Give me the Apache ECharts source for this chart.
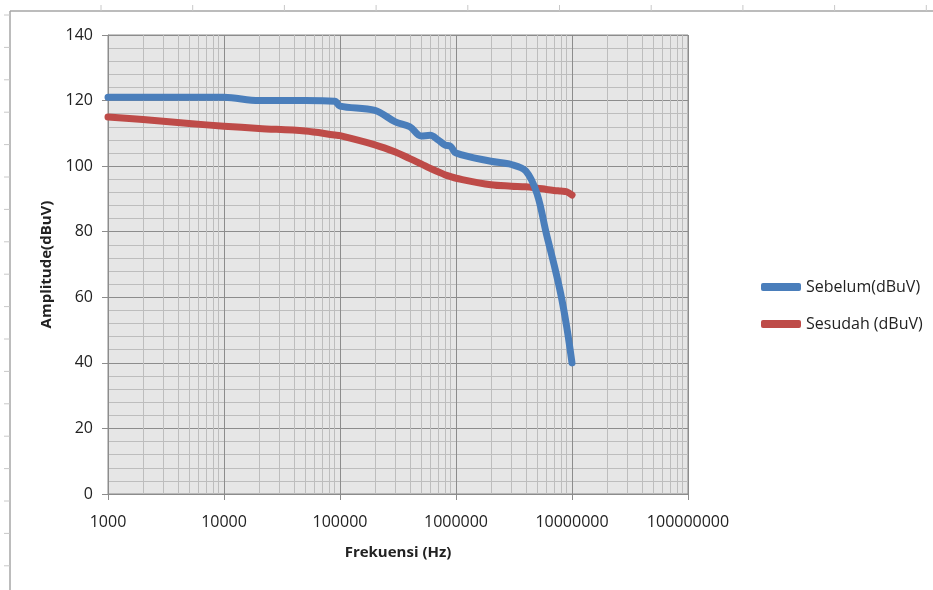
<!DOCTYPE html>
<html>
<head>
<meta charset="utf-8">
<script src="https://cdn.jsdelivr.net/npm/echarts@6/dist/echarts.min.js"></script>
<style>
  html, body { margin: 0; padding: 0; background: #fff; }
  #chart { width: 933px; height: 590px; }
</style>
</head>
<body>
<div id="chart"></div>
<script>
// frekuensi (Hz) tiap titik ukur
const freqs = [1000, 2000, 5000, 10000, 20000, 50000, 90000, 100000, 200000, 300000,
  400000, 500000, 600000, 700000, 800000, 900000, 1000000, 2000000, 3000000, 4000000,
  5000000, 6000000, 7000000, 8000000, 9000000, 10000000];
// amplitudo (dBuV)
const sebelum = [121, 121, 121, 121, 120, 120, 119.8, 118.3, 117, 113.5,
  112, 109.2, 109.4, 108, 106.5, 106, 104, 101.5, 100.5, 98.5,
  91.5, 79.5, 70, 61, 51, 40];
const sesudah = [115, 114.2, 113, 112.2, 111.5, 110.7, 109.5, 109.3, 106.5, 104.3,
  102.3, 100.7, 99.3, 98.3, 97.4, 96.8, 96.3, 94.3, 93.9, 93.7,
  93.3, 92.9, 92.6, 92.4, 92.2, 91.2];
const seriesNames = ['Sebelum(dBuV)', 'Sesudah (dBuV)'];
const decades = [1000, 10000, 100000, 1000000, 10000000];
const minorSteps = [2, 3, 4, 5, 6, 7, 8, 9];

const font = '"Open Sans", "Liberation Sans", sans-serif';

// garis bantu log (2..9 tiap dekade)
const minorLines = [];
decades.forEach(d => {
  minorSteps.forEach(m => minorLines.push({ xAxis: d * m }));
});

const pair = arr => freqs.map((f, i) => [f, arr[i]]);

// bingkai lembar kerja (garis atas & kiri)
const frame = [
  { type: 'line', shape: { x1: 10, y1: 11, x2: 933, y2: 11 }, style: { stroke: '#a6a6a6', lineWidth: 1.5 } },
  { type: 'line', shape: { x1: 10, y1: 11, x2: 10, y2: 590 }, style: { stroke: '#a6a6a6', lineWidth: 1.5 } }
];
for (let x = 101; x < 933; x += 91.7) {
  frame.push({ type: 'line', shape: { x1: x, y1: 5, x2: x, y2: 11 }, style: { stroke: '#c8c8c8', lineWidth: 1 } });
}
for (let y = 15; y < 590; y += 32.4) {
  frame.push({ type: 'line', shape: { x1: 4, y1: y, x2: 10, y2: y }, style: { stroke: '#c8c8c8', lineWidth: 1 } });
}

const chart = echarts.init(document.getElementById('chart'));
chart.setOption({
  animation: false,
  backgroundColor: '#fff',
  graphic: frame,
  grid: {
    left: 108, top: 35, width: 580, height: 459,
    show: true, backgroundColor: '#e6e6e6', borderColor: '#8c8c8c', borderWidth: 1
  },
  legend: {
    orient: 'vertical',
    left: 756, top: 274,
    itemWidth: 40, itemHeight: 8, itemGap: 21,
    icon: 'roundRect',
    data: seriesNames,
    textStyle: { fontFamily: font, fontSize: 16, color: '#222' }
  },
  xAxis: {
    type: 'log', logBase: 10, min: 1000, max: 100000000,
    name: 'Frekuensi (Hz)', nameLocation: 'middle', nameGap: 51,
    nameTextStyle: { fontFamily: font, fontSize: 15, fontWeight: 'bold', color: '#222' },
    axisLine: { show: true, lineStyle: { color: '#8c8c8c' } },
    axisTick: { show: true, length: 6, lineStyle: { color: '#8c8c8c' } },
    axisLabel: {
      fontFamily: font, fontSize: 16, color: '#222', margin: 20,
      formatter: v => String(Math.round(v))
    },
    splitLine: { show: true, lineStyle: { color: '#8c8c8c', width: 1 } }
  },
  yAxis: {
    type: 'value', min: 0, max: 140, interval: 20,
    name: 'Amplitude(dBuV)', nameLocation: 'middle', nameGap: 53,
    nameTextStyle: { fontFamily: font, fontSize: 15, fontWeight: 'bold', color: '#222' },
    axisLine: { show: true, lineStyle: { color: '#8c8c8c' } },
    axisTick: { show: true, length: 6, lineStyle: { color: '#8c8c8c' } },
    axisLabel: { fontFamily: font, fontSize: 16, color: '#222', margin: 15 },
    splitLine: { show: true, lineStyle: { color: '#8c8c8c', width: 1 } },
    minorTick: { show: false, splitNumber: 5 },
    minorSplitLine: { show: true, lineStyle: { color: '#bdbdbd', width: 1 } }
  },
  series: [
    {
      name: seriesNames[0], type: 'line', data: pair(sebelum),
      smooth: 0.35, showSymbol: false, z: 3,
      color: '#4a7ebb',
      lineStyle: { width: 7, cap: 'round', join: 'round' },
      markLine: {
        silent: true, z: 1, symbol: 'none', animation: false,
        label: { show: false },
        emphasis: { disabled: true },
        lineStyle: { color: '#bdbdbd', width: 1, type: 'solid' },
        data: minorLines
      }
    },
    {
      name: seriesNames[1], type: 'line', data: pair(sesudah),
      smooth: 0.35, showSymbol: false, z: 2,
      color: '#be4b48',
      lineStyle: { width: 7, cap: 'round', join: 'round' }
    }
  ]
});
</script>
</body>
</html>
